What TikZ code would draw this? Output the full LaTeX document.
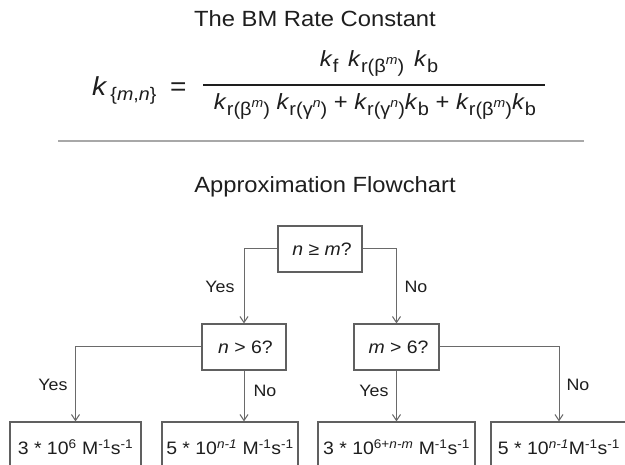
\documentclass[tikz,border=0pt]{standalone}
\usepackage{fontspec}
\setmainfont{Liberation Sans}[FakeStretch=1.08]
\usetikzlibrary{arrows.meta}
\definecolor{ink}{HTML}{1E1E1E}
\definecolor{linec}{HTML}{6A6A6A}
\definecolor{boxc}{HTML}{606060}
\definecolor{rulec}{HTML}{A8A8A8}
\newcommand\kx[1]{\textit{k}\raisebox{-0.25em}{\fontsize{18.5}{20}\selectfont #1}}
\newcommand\supm[1]{\raisebox{0.42em}{\fontsize{13}{14}\selectfont\textit{#1}}}
\newcommand\rbm{r(β\supm{m})}
\newcommand\rgn{r(γ\supm{n})}
\begin{document}
\begin{tikzpicture}[x=1pt,y=-1pt,
  box/.style={draw=boxc, line width=1.2pt, inner sep=0pt, text=ink, font=\fontsize{18}{20}\selectfont},
  lbl/.style={text=ink, font=\fontsize{16.5}{18}\selectfont, inner sep=0pt},
  arr/.style={draw=linec, line width=1pt, -{Straight Barb[length=6pt,width=8pt]}},
  txt/.style={text=ink, inner sep=0pt}
  ]
\useasboundingbox (0,0) rectangle (625,465);
\clip (0,0) rectangle (625,465);
\fill[white] (0,0) rectangle (625,465);

% header
\node[txt, anchor=base, font=\fontsize{22}{24}\selectfont] (t1) at (315,27) {The BM Rate Constant};
\node[txt, anchor=base west, font=\fontsize{26}{28}\selectfont] (klhs) at (92,96) {\textit{k}\textsubscript{\,\{\textit{m},\textit{n}\}}};
\node[txt, anchor=base west, font=\fontsize{26}{28}\selectfont] (eq) at (170,96) {=};
\coordinate (fa) at (203,85);
\coordinate (fb) at (545,85);
\draw[ink, line width=2pt] (fa) -- (fb);
\node[txt, anchor=base, font=\fontsize{22}{24}\selectfont] (num) at (379,67) {\kx{f}\hspace{0.45em}\kx{\rbm}\hspace{0.45em}\kx{b}};
\node[txt, anchor=base, font=\fontsize{22}{24}\selectfont] (den) at (375,110) {\kx{\rbm} \kx{\rgn} + \kx{\rgn}\kx{b} + \kx{\rbm}\kx{b}};
\coordinate (ra) at (58,141);
\coordinate (rb) at (584,141);
\draw[rulec, line width=2pt] (ra) -- (rb);
\node[txt, anchor=base, font=\fontsize{22}{24}\selectfont] (t2) at (325,193) {Approximation Flowchart};

% flowchart
\node[box, minimum width=84pt, minimum height=46pt] (top) at (320,249) {\hspace{4pt}\textit{n} ≥ \textit{m}?};
\node[box, minimum width=84pt, minimum height=46pt] (n6) at (244,347) {\hspace{3pt}\textit{n} > 6?};
\node[box, minimum width=85pt, minimum height=46pt] (m6) at (396.5,347) {\hspace{4pt}\textit{m} > 6?};
\node[box, minimum width=131pt, minimum height=50pt] (b1) at (75.5,447) {3 * 10\textsuperscript{6} M\textsuperscript{-1}s\textsuperscript{-1}};
\node[box, minimum width=136pt, minimum height=50pt] (b2) at (230,447) {5 * 10\textsuperscript{\textit{n-1}} M\textsuperscript{-1}s\textsuperscript{-1}};
\node[box, minimum width=157pt, minimum height=50pt] (b3) at (396.5,447) {3 * 10\textsuperscript{6+\textit{n-m}} M\textsuperscript{-1}s\textsuperscript{-1}};
\node[box, minimum width=136pt, minimum height=50pt] (b4) at (559,447) {5 * 10\textsuperscript{\textit{n-1}}M\textsuperscript{-1}s\textsuperscript{-1}};

\draw[arr] (top.west) -| (n6.north);
\draw[arr] (top.east) -| (m6.north);
\draw[arr] (n6.west) -| (b1.north);
\draw[arr] (n6.south) -- (n6.south |- b2.north);
\draw[arr] (m6.south) -- (b3.north);
\draw[arr] (m6.east) -| (b4.north);

\node[lbl] (y0) at (220,287) {Yes};
\node[lbl] (n0) at (416,287) {No};
\node[lbl] (y1) at (53,385) {Yes};
\node[lbl] (n1) at (265,391) {No};
\node[lbl] (y2) at (374,391) {Yes};
\node[lbl] (n2) at (578,385) {No};
\end{tikzpicture}
\end{document}
